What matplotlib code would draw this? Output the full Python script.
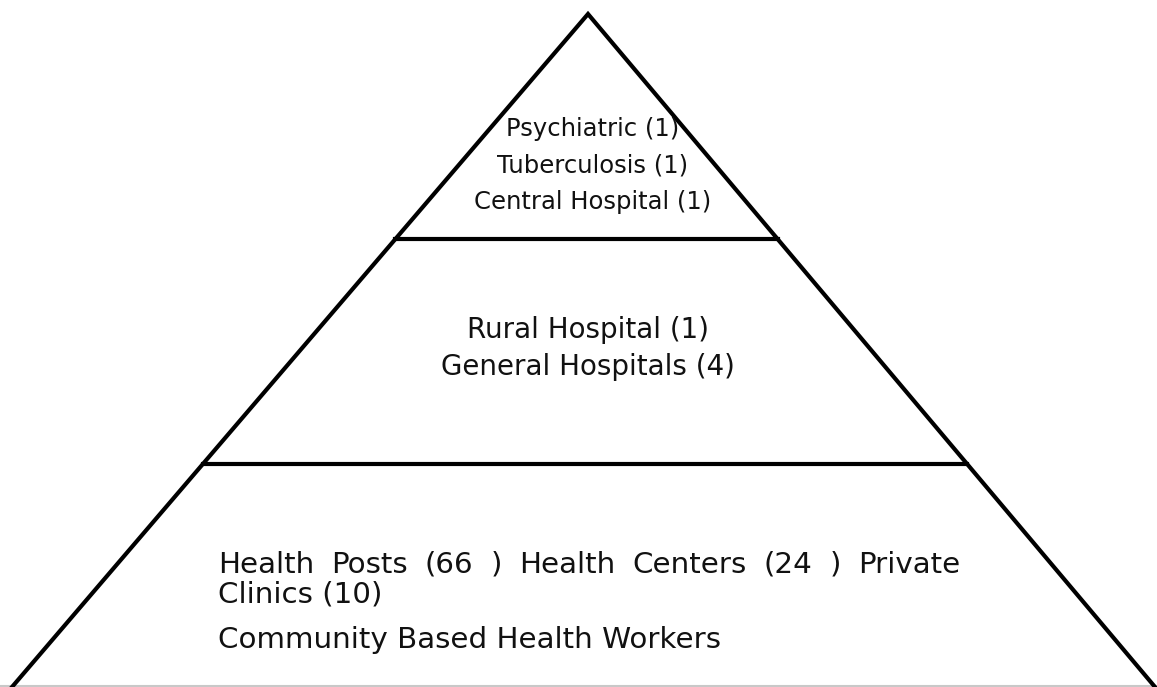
import matplotlib
matplotlib.use("Agg")
import matplotlib.pyplot as plt

# pyramid tiers, top to bottom
top_tier = ["Psychiatric (1)", "Tuberculosis (1)", "Central Hospital (1)"]
middle_tier = ["Rural Hospital (1)", "General Hospitals (4)"]
bottom_words = ["Health", "Posts", "(66", ")", "Health", "Centers", "(24", ")", "Private"]
bottom_rest = ["Clinics (10)", "Community Based Health Workers"]

W, H = 1157, 687
apex = (588, 14)
base_l, base_r = (12, 687), (1155, 687)
cuts = [239, 464]

fig = plt.figure(figsize=(W / 100, H / 100), dpi=100)
ax = fig.add_axes([0, 0, 1, 1])
ax.set_xlim(0, W)
ax.set_ylim(H, 0)
ax.axis("off")

def edge_x(p, y):
    return apex[0] + (p[0] - apex[0]) * (y - apex[1]) / (p[1] - apex[1])

ax.plot([0, W], [686, 686], color="#c8c8c8", lw=1.5)
ax.plot([base_l[0], apex[0], base_r[0]], [base_l[1], apex[1], base_r[1]],
        color="black", lw=3, solid_joinstyle="miter")
for y in cuts:
    ax.plot([edge_x(base_l, y), edge_x(base_r, y)], [y, y], color="black", lw=3)

tc = "#111111"
for i, s in enumerate(top_tier):
    ax.text(593, 129 + i * 36.5, s, ha="center", va="center", fontsize=17.5, color=tc)
for i, s in enumerate(middle_tier):
    ax.text(588, 330 + i * 37, s, ha="center", va="center", fontsize=20, color=tc)

# justified first line of the bottom tier
fs = 21.2
fig.canvas.draw()
r = fig.canvas.get_renderer()
x0, x1 = 218, 960
arts = [ax.text(0, 565, w, ha="left", va="center", fontsize=fs, color=tc) for w in bottom_words]
widths = []
inv = ax.transData.inverted()
for a in arts:
    bb = a.get_window_extent(renderer=r)
    p0 = inv.transform((bb.x0, bb.y0))
    p1 = inv.transform((bb.x1, bb.y0))
    widths.append(p1[0] - p0[0])
gap = (x1 - x0 - sum(widths)) / (len(arts) - 1)
x = x0
for a, w in zip(arts, widths):
    a.set_x(x)
    x += w + gap

ax.text(x0, 595, bottom_rest[0], ha="left", va="center", fontsize=fs, color=tc)
ax.text(x0, 640, bottom_rest[1], ha="left", va="center", fontsize=fs, color=tc)

fig.savefig("out.png", dpi=100)
